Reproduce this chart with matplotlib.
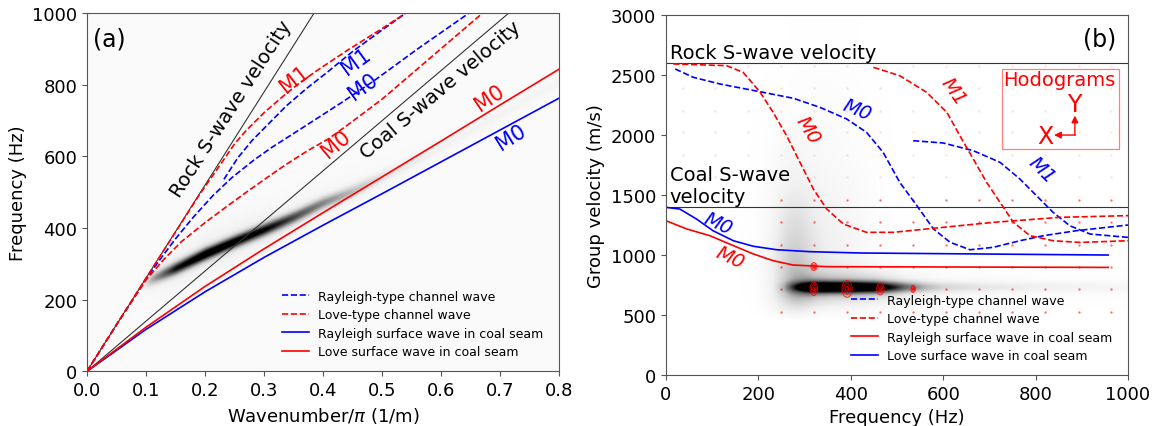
import numpy as np
import matplotlib.pyplot as plt
from matplotlib.patches import Ellipse, Rectangle

# ---------------- panel (a): frequency vs wavenumber ----------------
vs_rock = 2600
vs_coal = 1400

# Rayleigh-type channel waves (blue dashed)
a_k_ray_m0 = [0, 0.05, 0.1, 0.125, 0.15, 0.18, 0.213, 0.245, 0.283, 0.313, 0.351, 0.384, 0.431, 0.486, 0.56, 0.647]
a_f_ray_m0 = [0, 130, 258, 315, 370, 430, 490, 540, 590, 625, 665, 700, 750, 811, 900, 1000]
a_k_ray_m1 = [0.232, 0.255, 0.28, 0.31, 0.337, 0.37, 0.407, 0.45, 0.5, 0.54]
a_f_ray_m1 = [536, 595, 645, 695, 740, 787, 835, 893, 953, 1000]
# Love-type channel waves (red dashed)
a_k_love_m0 = [0, 0.05, 0.1, 0.13, 0.16, 0.2, 0.235, 0.27, 0.3, 0.335, 0.37, 0.41, 0.45, 0.5, 0.585, 0.67]
a_f_love_m0 = [0, 130, 255, 312, 362, 415, 458, 500, 535, 575, 612, 650, 698, 760, 880, 1000]
a_k_love_m1 = [0, 0.1, 0.19, 0.225, 0.25, 0.27, 0.3, 0.33, 0.36, 0.39, 0.44, 0.5, 0.54]
a_f_love_m1 = [0, 260, 492, 575, 635, 673, 722, 765, 805, 840, 895, 957, 1000]
# surface waves in coal seam (solid)
a_k_surf = [0, 0.1, 0.2, 0.3, 0.4, 0.5, 0.6, 0.7, 0.8]
a_f_ray_surf = [0, 117, 222, 318, 408, 496, 585, 674, 763]
a_f_love_surf = [0, 123, 237, 342, 443, 543, 643, 744, 844]

# energy ridge of the f-k spectrum
ridge_a_k = [0.09, 0.11, 0.15, 0.2, 0.25, 0.3, 0.35, 0.4, 0.45, 0.5, 0.6, 0.7, 0.8]
ridge_a_f = [235, 255, 285, 325, 360, 393, 428, 468, 500, 540, 625, 715, 805]
ridge_a_amp = [0.0, 0.35, 0.8, 1.0, 0.95, 0.85, 0.65, 0.45, 0.3, 0.15, 0.06, 0.05, 0.04]

# ---------------- panel (b): group velocity vs frequency ----------------
b_f_ray_m0 = [20, 59, 117, 203, 276, 333, 391, 434, 470, 506, 543, 579, 615, 658, 708, 766, 817, 889, 1000]
b_v_ray_m0 = [2548, 2479, 2423, 2359, 2304, 2229, 2132, 2021, 1854, 1604, 1410, 1216, 1105, 1043, 1063, 1118, 1160, 1202, 1249]
b_f_ray_m1 = [535, 600, 665, 723, 766, 802, 838, 874, 918, 1000]
b_v_ray_m1 = [1951, 1932, 1868, 1771, 1632, 1493, 1354, 1243, 1174, 1146]
b_f_love_m0 = [16, 131, 167, 203, 232, 261, 290, 319, 348, 384, 434, 492, 564, 708, 853, 1000]
b_v_love_m0 = [2590, 2576, 2520, 2359, 2187, 1993, 1771, 1549, 1382, 1257, 1188, 1188, 1216, 1271, 1313, 1327]
b_f_love_m1 = [449, 506, 564, 608, 636, 665, 694, 723, 752, 788, 838, 896, 1000]
b_v_love_m1 = [2562, 2492, 2354, 2187, 1993, 1799, 1604, 1438, 1271, 1160, 1118, 1104, 1118]
b_f_ray_surf = [0, 30, 66, 102, 146, 189, 240, 312, 420, 957]
b_v_ray_surf = [1396, 1382, 1299, 1201, 1118, 1072, 1043, 1027, 1016, 999]
b_f_love_surf = [0, 45, 95, 146, 189, 232, 275, 348, 957]
b_v_love_surf = [1285, 1216, 1160, 1077, 1008, 952, 916, 902, 896]

# dark energy blob of the group velocity image
blob_f = [230, 255, 280, 310, 340, 400, 450, 480, 520, 560, 600, 700, 800, 900, 1000]
blob_amp = [0.0, 0.12, 0.45, 0.85, 1.0, 1.0, 0.9, 0.7, 0.45, 0.28, 0.18, 0.12, 0.09, 0.07, 0.05]
blob_v = 728

# hodogram grid and ellipses
hodo_f = [249, 320, 392, 464, 535, 607, 678, 750, 821, 893, 964]
hodo_v = [528, 717, 903, 1086, 1278, 1461]
hodo_up_f = [36, 107, 178, 249, 320, 392, 464, 535, 607, 678, 750, 821, 893, 964]
hodo_up_v = [1650, 1830, 2020, 2200, 2390, 2575]
ell_f = [320, 392, 464, 535, 320]
ell_v = [717, 717, 717, 717, 903]
ell_w = [16, 22, 16, 10, 13]
ell_h = [110, 140, 100, 60, 65]

lab_a = ['Rayleigh-type channel wave', 'Love-type channel wave',
         'Rayleigh surface wave in coal seam', 'Love surface wave in coal seam']

fig = plt.figure(figsize=(11.58, 4.27), dpi=100)
ax1 = fig.add_axes([0.0751, 0.1281, 0.408, 0.839])
ax2 = fig.add_axes([0.5751, 0.1194, 0.399, 0.8438])

# background image (a)
kk = np.linspace(0, 0.8, 400)
ff = np.linspace(0, 1000, 500)
K, F = np.meshgrid(kk, ff)
fc = np.interp(kk, ridge_a_k, ridge_a_f)
amp = np.interp(kk, ridge_a_k, ridge_a_amp, left=0)
img_a = 0.035 + amp[None, :] * np.exp(-((F - fc[None, :]) / 17) ** 2)
img_a += 0.1 * amp[None, :] * np.exp(-((F - fc[None, :]) / 60) ** 2)
ax1.imshow(img_a, extent=[0, 0.8, 0, 1000], origin='lower', aspect='auto',
           cmap='Greys', vmin=0, vmax=0.95, interpolation='bilinear')

lw = 1.2
ax1.plot([0, 1000 / vs_rock], [0, 1000], color='#333333', lw=0.8)
ax1.plot([0, 1000 / vs_coal], [0, 1000], color='#333333', lw=0.8)
l1, = ax1.plot(a_k_ray_m0, a_f_ray_m0, '--', color='blue', lw=lw)
ax1.plot(a_k_ray_m1, a_f_ray_m1, '--', color='blue', lw=lw)
l2, = ax1.plot(a_k_love_m0, a_f_love_m0, '--', color='red', lw=lw)
ax1.plot(a_k_love_m1, a_f_love_m1, '--', color='red', lw=lw)
l3, = ax1.plot(a_k_surf, a_f_ray_surf, '-', color='blue', lw=lw)
l4, = ax1.plot(a_k_surf, a_f_love_surf, '-', color='red', lw=lw)

ax1.text(0.245, 735, 'Rock S-wave velocity', rotation=57, fontsize=14,
         ha='center', va='center', rotation_mode='anchor')
ax1.text(0.598, 787, 'Coal S-wave velocity', rotation=40, fontsize=14,
         ha='center', va='center', rotation_mode='anchor')
ax1.text(0.01, 930, '(a)', fontsize=17, ha='left', va='center')
kwa = dict(fontsize=15, ha='center', va='center', rotation_mode='anchor')
ax1.text(0.352, 818, 'M1', color='red', rotation=38, **kwa)
ax1.text(0.456, 865, 'M1', color='blue', rotation=36, **kwa)
ax1.text(0.467, 797, 'M0', color='blue', rotation=36, **kwa)
ax1.text(0.422, 637, 'M0', color='red', rotation=40, **kwa)
ax1.text(0.681, 764, 'M0', color='red', rotation=34, **kwa)
ax1.text(0.718, 656, 'M0', color='blue', rotation=32, **kwa)

ax1.legend([l1, l2, l3, l4], lab_a, loc='upper left', bbox_to_anchor=(0.412, 0.228),
           frameon=False, fontsize=9, handlelength=2.2, handletextpad=0.7,
           labelspacing=0.45, borderpad=0, borderaxespad=0)

ax1.set_xlim(0, 0.8)
ax1.set_ylim(0, 1000)
ax1.set_xticks([0, 0.1, 0.2, 0.3, 0.4, 0.5, 0.6, 0.7, 0.8])
ax1.set_xlabel('Wavenumber/$\\pi$ (1/m)', fontsize=13)
ax1.set_ylabel('Frequency (Hz)', fontsize=13)

# background image (b)
fb = np.linspace(0, 1000, 500)
vb = np.linspace(0, 3000, 600)
FB, VB = np.meshgrid(fb, vb)
bamp = np.interp(fb, blob_f, blob_amp, left=0)
img_b = bamp[None, :] * np.exp(-((VB - blob_v) / 45) ** 2)
img_b += 0.3 * bamp[None, :] * np.exp(-((VB - blob_v) / 130) ** 2)
vprof = np.interp(VB, [450, 650, 900, 1300, 1600, 2200], [0, 1, 0.9, 0.55, 0.25, 0])
img_b += 0.25 * np.exp(-((FB - 275) / 45) ** 2) * vprof
vprof2 = np.interp(VB, [450, 900, 1800, 2800], [0, 1, 0.35, 0.05])
img_b += 0.12 * np.exp(-((FB - 340) / 100) ** 2) * vprof2
ax2.imshow(img_b, extent=[0, 1000, 0, 3000], origin='lower', aspect='auto',
           cmap='Greys', vmin=0, vmax=0.9, interpolation='bilinear')

HF, HV = np.meshgrid(hodo_f, hodo_v)
ax2.scatter(HF.ravel(), HV.ravel(), s=3, color='red', alpha=0.55, lw=0)
UF, UV = np.meshgrid(hodo_up_f, hodo_up_v)
ax2.scatter(UF.ravel(), UV.ravel(), s=3, color='red', alpha=0.12, lw=0)
for i in range(len(ell_f)):
    for sc in [1.0, 0.65, 0.3]:
        ax2.add_patch(Ellipse((ell_f[i], ell_v[i]), ell_w[i] * sc, ell_h[i] * sc,
                              fill=False, edgecolor='red', lw=0.7, alpha=0.8))

ax2.axhline(vs_rock, color='#333333', lw=0.8)
ax2.axhline(vs_coal, color='#333333', lw=0.8)
m1, = ax2.plot(b_f_ray_m0, b_v_ray_m0, '--', color='blue', lw=lw)
ax2.plot(b_f_ray_m1, b_v_ray_m1, '--', color='blue', lw=lw)
m2, = ax2.plot(b_f_love_m0, b_v_love_m0, '--', color='red', lw=lw)
ax2.plot(b_f_love_m1, b_v_love_m1, '--', color='red', lw=lw)
m4, = ax2.plot(b_f_ray_surf, b_v_ray_surf, '-', color='blue', lw=lw)
m3, = ax2.plot(b_f_love_surf, b_v_love_surf, '-', color='red', lw=lw)

ax2.text(8, 2640, 'Rock S-wave velocity', fontsize=14, va='baseline')
ax2.text(8, 1443, 'Coal S-wave\nvelocity', fontsize=14, va='baseline', linespacing=1.2)
ax2.text(975, 2800, '(b)', fontsize=17, ha='right', va='center')

kw = dict(fontsize=14, style='italic', ha='center', va='center', rotation_mode='anchor')
ax2.text(113, 1262, 'M0', color='blue', rotation=-25, **kw)
ax2.text(138, 980, 'M0', color='red', rotation=-25, **kw)
ax2.text(308, 2048, 'M0', color='red', rotation=-58, **kw)
ax2.text(413, 2215, 'M0', color='blue', rotation=-22, **kw)
ax2.text(622, 2367, 'M1', color='red', rotation=-55, **kw)
ax2.text(813, 1715, 'M1', color='blue', rotation=-45, **kw)

# hodogram inset
ax2.add_patch(Rectangle((727, 1882), 253, 666, fill=False, edgecolor='red', lw=0.9, alpha=0.5))
ax2.text(851, 2459, 'Hodograms', color='red', fontsize=14, ha='center', va='center')
ax2.text(884, 2256, 'Y', color='red', fontsize=17, ha='center', va='center')
ax2.text(821, 1990, 'X', color='red', fontsize=17, ha='center', va='center')
ax2.annotate('', xy=(885, 2160), xytext=(885, 1998),
             arrowprops=dict(arrowstyle='-|>', color='red', lw=1, mutation_scale=10, shrinkA=0, shrinkB=0))
ax2.annotate('', xy=(840, 1998), xytext=(886, 1998),
             arrowprops=dict(arrowstyle='-|>', color='red', lw=1, mutation_scale=10, shrinkA=0, shrinkB=0))

ax2.legend([m1, m2, m3, m4], lab_a, loc='upper left', bbox_to_anchor=(0.4, 0.226),
           frameon=False, fontsize=9, handlelength=2.2, handletextpad=0.7,
           labelspacing=0.45, borderpad=0, borderaxespad=0)

ax2.set_xlim(0, 1000)
ax2.set_ylim(0, 3000)
ax2.set_xlabel('Frequency (Hz)', fontsize=13)
ax2.set_ylabel('Group velocity (m/s)', fontsize=13)

for ax in [ax1, ax2]:
    ax.tick_params(labelsize=13, color='#555555')
    for s in ax.spines.values():
        s.set_color('#555555')

plt.savefig('out.png', dpi=100)
